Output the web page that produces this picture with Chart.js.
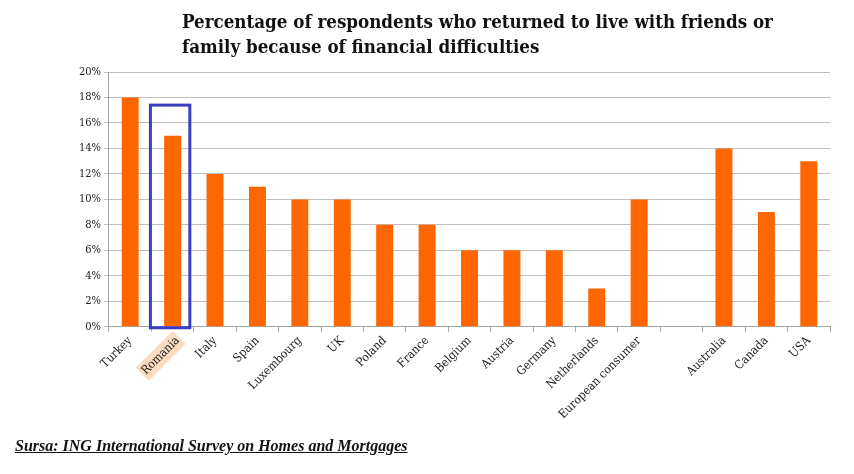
<!DOCTYPE html>
<html>
<head>
<meta charset="utf-8">
<script src="https://cdn.jsdelivr.net/npm/chart.js@4.4.0/dist/chart.umd.min.js"></script>
<style>
  html, body { margin: 0; padding: 0; background: #fff; }
  #wrap { position: relative; width: 854px; height: 474px; overflow: hidden; }
  #title { position: absolute; left: 182px; top: 9px; font-family: "DejaVu Serif Condensed", "DejaVu Serif", serif; font-stretch: condensed; font-weight: bold; font-size: 18.6px; line-height: 25px; color: #111; }
  #source { position: absolute; left: 15px; top: 437px; font-family: "Liberation Serif", serif; font-weight: bold; font-style: italic; font-size: 16px; text-decoration: underline; color: #111; }
  canvas { position: absolute; left: 0; top: 0; }
</style>
</head>
<body>
<div id="wrap">
  <canvas id="c" width="854" height="474"></canvas>
  <div id="title">Percentage of respondents who returned to live with friends or<br>family because of financial difficulties</div>
  <div id="source">Sursa: ING International Survey on Homes and Mortgages</div>
</div>
<script>
const categories = ["Turkey", "Romania", "Italy", "Spain", "Luxembourg", "UK", "Poland", "France", "Belgium", "Austria", "Germany", "Netherlands", "European consumer", "", "Australia", "Canada", "USA"];
const values = [18, 15, 12, 11, 10, 10, 8, 8, 6, 6, 6, 3, 10, null, 14, 9, 13];
const yTicks = [0, 2, 4, 6, 8, 10, 12, 14, 16, 18, 20];
const highlightIndex = 1;
const highlightTop = 17.4;

const highlightBox = {
  id: 'highlightBox',
  afterDatasetsDraw(chart) {
    const x = chart.scales.x, y = chart.scales.y;
    const cx = x.getPixelForValue(highlightIndex);
    const half = x.width / categories.length / 2;
    const ctx = chart.ctx;
    ctx.save();
    ctx.strokeStyle = '#3b3fbf';
    ctx.lineWidth = 3;
    ctx.strokeRect(cx - half - 1, y.getPixelForValue(highlightTop), 2 * half - 3, y.getPixelForValue(0) - y.getPixelForValue(highlightTop) + 1);
    ctx.restore();
  }
};

new Chart(document.getElementById('c'), {
  type: 'bar',
  data: {
    labels: categories,
    datasets: [{
      data: values,
      backgroundColor: '#ff6600',
      borderWidth: 0,
      barPercentage: 0.4,
      categoryPercentage: 1.0
    }]
  },
  options: {
    responsive: false,
    animation: false,
    devicePixelRatio: 1,
    layout: { padding: { left: 76, right: 24, top: 72, bottom: 50 } },
    plugins: { legend: { display: false }, tooltip: { enabled: false }, title: { display: false } },
    scales: {
      x: {
        grid: { display: true, drawOnChartArea: false, drawTicks: true, tickLength: 5, color: '#a6a6a6', offset: true },
        border: { color: '#a6a6a6', width: 1 },
        ticks: {
          autoSkip: false,
          maxRotation: 45, minRotation: 45,
          color: '#222',
          font: { family: "DejaVu Serif Condensed, DejaVu Serif, serif", size: 12 },
          padding: 2,
          showLabelBackdrop: (ctx) => ctx.index === highlightIndex,
          backdropColor: (ctx) => ctx.index === highlightIndex ? '#fbdcc0' : 'rgba(0,0,0,0)',
          backdropPadding: 2
        }
      },
      y: {
        min: 0, max: 20,
        afterBuildTicks(scale) { scale.ticks = yTicks.map(v => ({ value: v })); },
        grid: { color: '#bfbfbf', tickLength: 5, drawTicks: true },
        border: { color: '#a6a6a6', width: 1 },
        ticks: {
          color: '#222',
          font: { family: "DejaVu Serif Condensed, DejaVu Serif, serif", size: 11 },
          padding: 3,
          callback: (v) => v + '%'
        }
      }
    }
  },
  plugins: [highlightBox]
});
</script>
</body>
</html>
